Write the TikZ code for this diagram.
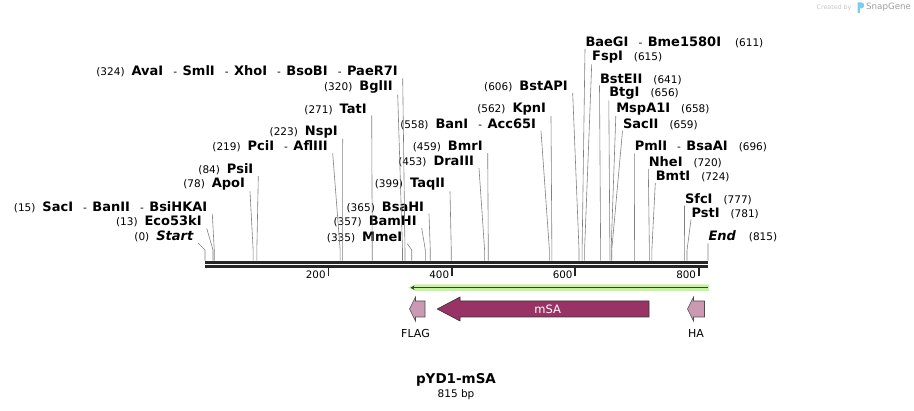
\documentclass[tikz,border=0pt]{standalone}
\usepackage{fontspec}
\setmainfont{DejaVu Sans}
\usetikzlibrary{positioning,arrows.meta}

\definecolor{msacol}{HTML}{993366}
\definecolor{tagcol}{HTML}{CC99B2}
\definecolor{orfcol}{HTML}{C4F49C}
\definecolor{orfline}{HTML}{34452C}
\definecolor{mapline}{HTML}{262626}
\definecolor{sgblue}{HTML}{7CCBF2}

\newcommand{\sitepos}[1]{{\fontsize{10.5}{12}\selectfont(#1)}}
\newcommand{\enz}[1]{{\fontsize{13}{15}\selectfont\bfseries #1}}
\newcommand{\orsep}{\hspace{10pt}{\fontsize{10.5}{12}\selectfont-}\hspace{5.5pt}}

\begin{document}
\begin{tikzpicture}[x=1pt,y=-1pt,
    lsite/.style={anchor=east,inner xsep=5pt,inner ysep=1pt,outer sep=0pt},
    rsite/.style={anchor=west,inner xsep=0.5pt,inner ysep=1pt,outer sep=0pt},
    leader/.style={draw=black!50,line width=0.6pt},
    tag/.style={draw=black!70,fill=tagcol,line width=0.6pt},
    ticklbl/.style={anchor=east,inner sep=0.5pt,font=\fontsize{10.3}{12}\selectfont}]

  \useasboundingbox (0,0) rectangle (914,411);

  % cut sites on the backbone
  \foreach \p in {0,13,15,78,84,219,223,271,320,324,335,357,365,399,453,459,
                  558,562,606,611,615,641,656,658,659,696,720,724,777,781,815}
    \coordinate (s\p) at ({205+0.6172*\p},260.7);

  % backbone
  \draw[mapline,line width=3pt] (205,262.2) -- (708,262.2);
  \draw[mapline,line width=2.7pt] (205,266.3) -- (708,266.3);
  \draw[mapline,line width=1.7pt] (328.4,267.5) -- (328.4,276.5);
  \draw[mapline,line width=1.7pt] (451.9,267.5) -- (451.9,276.5);
  \draw[mapline,line width=1.7pt] (575.3,267.5) -- (575.3,276.5);
  \draw[mapline,line width=1.7pt] (698.8,267.5) -- (698.8,276.5);
  \node[ticklbl] (t200) at (326.3,274.5) {200};
  \node[ticklbl] (t400) at (449.8,274.5) {400};
  \node[ticklbl] (t600) at (573.2,274.5) {600};
  \node[ticklbl] (t800) at (696.7,274.5) {800};

  % labels, left of their sites
  \node[lsite] (avai) at (402.7,71.7) {\sitepos{324}\hspace{7pt}\enz{AvaI}\orsep\enz{SmlI}\orsep\enz{XhoI}\orsep\enz{BsoBI}\orsep\enz{PaeR7I}};
  \node[lsite] (bglii) at (397.7,87.3) {\sitepos{320}\hspace{7pt}\enz{BglII}};
  \node[lsite] (tati) at (371.7,109) {\sitepos{271}\hspace{7pt}\enz{TatI}};
  \node[lsite] (nspi) at (342.7,131.7) {\sitepos{223}\hspace{7pt}\enz{NspI}};
  \node[lsite] (pcii) at (332.7,146.7) {\sitepos{219}\hspace{7pt}\enz{PciI}\orsep\enz{AflIII}};
  \node[lsite] (psii) at (258.3,169.3) {\sitepos{84}\hspace{7pt}\enz{PsiI}};
  \node[lsite] (apoi) at (250,184.3) {\sitepos{78}\hspace{7pt}\enz{ApoI}};
  \node[lsite] (saci) at (212.3,207.3) {\sitepos{15}\hspace{7pt}\enz{SacI}\orsep\enz{BanII}\orsep\enz{BsiHKAI}};
  \node[lsite] (eco53ki) at (206.7,221.7) {\sitepos{13}\hspace{7pt}\enz{Eco53kI}};
  \node[lsite] (start) at (198.3,236.7) {\sitepos{0}\hspace{7pt}\enz{\itshape Start}};
  \node[lsite] (bani) at (541,124.3) {\sitepos{558}\hspace{7pt}\enz{BanI}\orsep\enz{Acc65I}};
  \node[lsite] (kpni) at (551,109) {\sitepos{562}\hspace{7pt}\enz{KpnI}};
  \node[lsite] (bstapi) at (572.7,86.7) {\sitepos{606}\hspace{7pt}\enz{BstAPI}};
  \node[lsite] (bmri) at (487.7,146.7) {\sitepos{459}\hspace{7pt}\enz{BmrI}};
  \node[lsite] (draiii) at (479,161.7) {\sitepos{453}\hspace{7pt}\enz{DraIII}};
  \node[lsite] (taqii) at (450,184.3) {\sitepos{399}\hspace{7pt}\enz{TaqII}};
  \node[lsite] (bsahi) at (429,207.3) {\sitepos{365}\hspace{7pt}\enz{BsaHI}};
  \node[lsite] (bamhi) at (421.7,221.7) {\sitepos{357}\hspace{7pt}\enz{BamHI}};
  \node[lsite] (mmei) at (407.3,237.3) {\sitepos{335}\hspace{7pt}\enz{MmeI}};

  % labels, right of their sites
  \node[rsite] (baegi) at (585,42.3) {\enz{BaeGI}\orsep\enz{Bme1580I}\hspace{14pt}\sitepos{611}};
  \node[rsite] (fspi) at (591.7,57.3) {\enz{FspI}\hspace{11pt}\sitepos{615}};
  \node[rsite] (bsteii) at (599.5,79) {\enz{BstEII}\hspace{11pt}\sitepos{641}};
  \node[rsite] (btgi) at (608.8,93.3) {\enz{BtgI}\hspace{11pt}\sitepos{656}};
  \node[rsite] (mspa1i) at (615.8,109) {\enz{MspA1I}\hspace{11pt}\sitepos{658}};
  \node[rsite] (sacii) at (622.5,124.3) {\enz{SacII}\hspace{11pt}\sitepos{659}};
  \node[rsite] (pmli) at (634.3,146.7) {\enz{PmlI}\orsep\enz{BsaAI}\hspace{11pt}\sitepos{696}};
  \node[rsite] (nhei) at (648.3,162.3) {\enz{NheI}\hspace{11pt}\sitepos{720}};
  \node[rsite] (bmti) at (655.3,176.7) {\enz{BmtI}\hspace{11pt}\sitepos{724}};
  \node[rsite] (sfci) at (684.5,199) {\enz{SfcI}\hspace{11pt}\sitepos{777}};
  \node[rsite] (psti) at (691,213.3) {\enz{PstI}\hspace{11pt}\sitepos{781}};
  \node[rsite] (end) at (708,236.7) {\enz{\itshape End}\hspace{13pt}\sitepos{815}};

  % leaders
  \draw[leader] (avai.south east) -- ([yshift=10.7pt]s324) -- (s324);
  \draw[leader] (bglii.south east) -- ([yshift=10.7pt]s320) -- (s320);
  \draw[leader] (tati.south east) -- ([yshift=10.7pt]s271) -- (s271);
  \draw[leader] (nspi.south east) -- ([yshift=10.7pt]s223) -- (s223);
  \draw[leader] (pcii.south east) -- ([yshift=10.7pt]s219) -- (s219);
  \draw[leader] (psii.south east) -- ([yshift=10.7pt]s84) -- (s84);
  \draw[leader] (apoi.south east) -- ([yshift=10.7pt]s78) -- (s78);
  \draw[leader] (saci.south east) -- ([yshift=10.7pt]s15) -- (s15);
  \draw[leader] (eco53ki.south east) -- ([yshift=10.7pt]s13) -- (s13);
  \draw[leader] (start.south east) -- ([yshift=10.7pt]s0) -- (s0);
  \draw[leader] (bani.south east) -- ([yshift=10.7pt]s558) -- (s558);
  \draw[leader] (kpni.south east) -- ([yshift=10.7pt]s562) -- (s562);
  \draw[leader] (bstapi.south east) -- ([yshift=10.7pt]s606) -- (s606);
  \draw[leader] (bmri.south east) -- ([yshift=10.7pt]s459) -- (s459);
  \draw[leader] (draiii.south east) -- ([yshift=10.7pt]s453) -- (s453);
  \draw[leader] (taqii.south east) -- ([yshift=10.7pt]s399) -- (s399);
  \draw[leader] (bsahi.south east) -- ([yshift=10.7pt]s365) -- (s365);
  \draw[leader] (bamhi.south east) -- ([yshift=10.7pt]s357) -- (s357);
  \draw[leader] (mmei.south east) -- ([yshift=10.7pt]s335) -- (s335);
  \draw[leader] (baegi.south west) -- ([yshift=10.7pt]s611) -- (s611);
  \draw[leader] (fspi.south west) -- ([yshift=10.7pt]s615) -- (s615);
  \draw[leader] (bsteii.south west) -- ([yshift=10.7pt]s641) -- (s641);
  \draw[leader] (btgi.south west) -- ([yshift=10.7pt]s656) -- (s656);
  \draw[leader] (mspa1i.south west) -- ([yshift=10.7pt]s658) -- (s658);
  \draw[leader] (sacii.south west) -- ([yshift=10.7pt]s659) -- (s659);
  \draw[leader] (pmli.south west) -- ([yshift=10.7pt]s696) -- (s696);
  \draw[leader] (nhei.south west) -- ([yshift=10.7pt]s720) -- (s720);
  \draw[leader] (bmti.south west) -- ([yshift=10.7pt]s724) -- (s724);
  \draw[leader] (sfci.south west) -- ([yshift=10.7pt]s777) -- (s777);
  \draw[leader] (psti.south west) -- ([yshift=10.7pt]s781) -- (s781);
  \draw[leader] (end.south west) -- ([yshift=10.7pt]s815) -- (s815);

  % open reading frame
  \fill[orfcol] (709,284.5) -- (709,290.8) -- (415,290.8) -- (408.3,287.7) -- (415,284.5) -- cycle;
  \draw[orfline,line width=1.3pt,-{Stealth[length=4pt,width=4.5pt]}] (707.5,287.7) -- (410.5,287.7);

  % features
  \draw[tag] (409.5,309) -- (415.5,297) -- (415.5,301) -- (425,301) -- (425,317) -- (415.5,317) -- (415.5,321) -- cycle;
  \draw[draw=black!80,fill=msacol,line width=0.6pt] (437.2,309) -- (460,297) -- (460,301) -- (649,301)
    -- (649,317) -- (460,317) -- (460,321) -- cycle;
  \draw[tag] (687.5,309) -- (693.5,297) -- (693.5,301) -- (704.5,301) -- (704.5,317) -- (693.5,317) -- (693.5,321) -- cycle;
  \node[text=white,font=\fontsize{11.5}{13}\selectfont] (msa) at (547.6,309.5) {mSA};
  \node[font=\fontsize{11}{13}\selectfont] (flag) at (415.5,333) {FLAG};
  \node[font=\fontsize{11}{13}\selectfont] (ha) at (696,333) {HA};

  % name and size
  \node[font=\fontsize{13.5}{16}\selectfont\bfseries] (title) at (456,380) {pYD1-mSA};
  \node[below=-4pt of title,font=\fontsize{10.5}{12}\selectfont] (size) {815 bp};

  % stamp
  \node[anchor=west,inner sep=0pt,text=black!22,font=\fontsize{6.3}{7}\selectfont] (made) at (816.5,7.5) {Created by};
  \fill[sgblue] (857.5,13) -- (857.5,2.5) -- (861.5,2.5) .. controls (865,2.5) and (865,8.3) .. (861.5,8.3)
    -- (859.8,8.3) -- (859.8,13) -- cycle;
  \node[anchor=west,inner sep=0pt,text=black!38,font=\fontsize{8.7}{10}\selectfont] (snapgene) at (866,7.5) {SnapGene};
\end{tikzpicture}
\end{document}
